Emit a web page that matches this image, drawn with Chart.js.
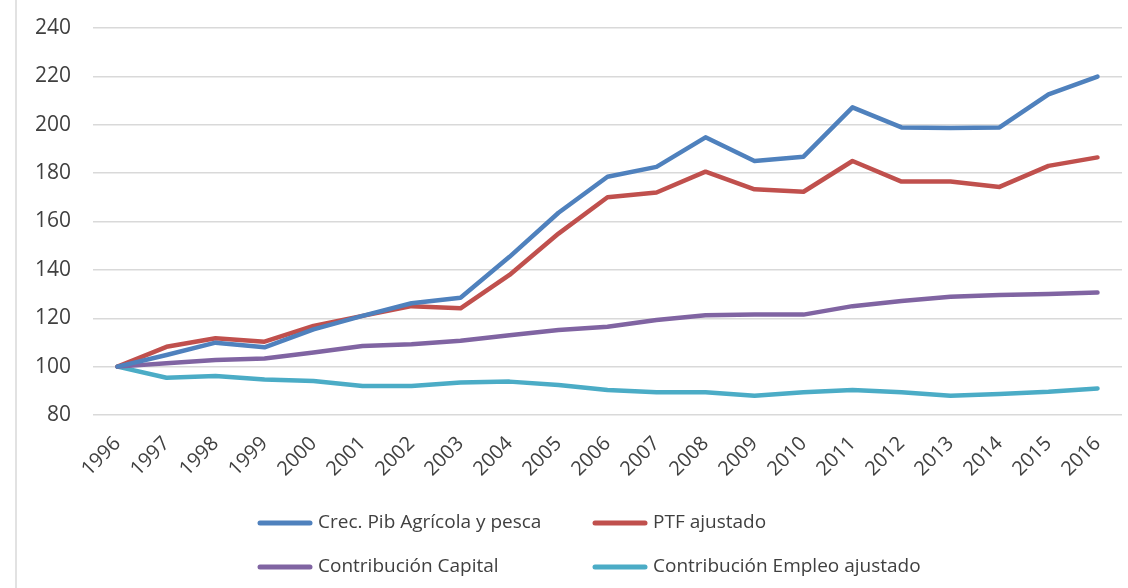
<!DOCTYPE html>
<html lang="es">
<head>
    <meta charset="UTF-8">
    <title>Crecimiento PIB agrícola y pesca</title>
    <style>
        body {
            margin: 0;
            background: #ffffff;
        }
        #wrap {
            position: relative;
            width: 1128px;
            height: 588px;
        }
    </style>
    <script src="https://cdn.jsdelivr.net/npm/chart.js"></script>
</head>
<body>

<div id="wrap">
    <canvas id="tfpChart"></canvas>
</div>

<script>
    // Years on the x axis
    const years = ['1996', '1997', '1998', '1999', '2000', '2001', '2002', '2003', '2004', '2005', '2006',
        '2007', '2008', '2009', '2010', '2011', '2012', '2013', '2014', '2015', '2016'];

    // Series (index 1996 = 100)
    const pibAgricola = [100, 104.8, 109.9, 108, 115.4, 121, 126.2, 128.5, 145.4, 163.6, 178.5,
        182.6, 194.8, 185, 186.8, 207.2, 198.9, 198.7, 198.9, 212.6, 219.9];
    const ptfAjustado = [100, 108.2, 111.7, 110.3, 116.8, 121, 125, 124.1, 137.9, 155, 170,
        172, 180.6, 173.3, 172.3, 185, 176.5, 176.5, 174.3, 183, 186.5];
    const contribCapital = [100, 101.4, 102.7, 103.4, 105.8, 108.5, 109.3, 110.7, 113, 115.1, 116.5,
        119.3, 121.2, 121.6, 121.5, 125, 127.1, 128.9, 129.6, 130, 130.6];
    const contribEmpleo = [100, 95.4, 96.1, 94.7, 94.1, 92, 92, 93.4, 93.8, 92.4, 90.3,
        89.4, 89.4, 88, 89.4, 90.3, 89.4, 88, 88.7, 89.6, 91];

    // Y axis range
    const yMin = 80;
    const yMax = 240;
    const yStep = 20;

    const fontFamily = '"Open Sans", "Noto Sans", sans-serif';
    const textColor = '#404040';

    // thin frame line at the left edge
    const framePlugin = {
        id: 'frame',
        beforeDraw(chart) {
            const ctx = chart.ctx;
            ctx.save();
            ctx.strokeStyle = '#d9d9d9';
            ctx.lineWidth = 1.5;
            ctx.beginPath();
            ctx.moveTo(16, 0);
            ctx.lineTo(16, chart.height);
            ctx.stroke();
            ctx.restore();
        }
    };

    // excel style legend: two columns, two rows
    const gridLegend = {
        id: 'gridLegend',
        afterDraw(chart) {
            const ctx = chart.ctx;
            const cols = [258, 593];
            const rows = [523, 567];
            ctx.save();
            ctx.font = '19px ' + fontFamily;
            ctx.textBaseline = 'middle';
            ctx.textAlign = 'left';
            chart.data.datasets.forEach((ds, i) => {
                const x = cols[i % 2];
                const y = rows[Math.floor(i / 2)];
                ctx.strokeStyle = ds.borderColor;
                ctx.lineWidth = 5;
                ctx.lineCap = 'round';
                ctx.beginPath();
                ctx.moveTo(x + 2, y);
                ctx.lineTo(x + 52, y);
                ctx.stroke();
                ctx.fillStyle = textColor;
                ctx.fillText(ds.label, x + 60, y);
            });
            ctx.restore();
        }
    };

    function line(label, data, color) {
        return {
            label: label,
            data: data,
            borderColor: color,
            backgroundColor: color,
            borderWidth: 4.5,
            pointRadius: 0,
            tension: 0,
            fill: false,
            borderCapStyle: 'round',
            borderJoinStyle: 'round'
        };
    }

    const ctx = document.getElementById('tfpChart').getContext('2d');
    new Chart(ctx, {
        type: 'line',
        data: {
            labels: years,
            datasets: [
                line('Crec. Pib Agrícola y pesca', pibAgricola, '#4f81bd'),
                line('PTF ajustado', ptfAjustado, '#c0504d'),
                line('Contribución Capital', contribCapital, '#8064a2'),
                line('Contribución Empleo ajustado', contribEmpleo, '#4bacc6')
            ]
        },
        options: {
            responsive: true,
            maintainAspectRatio: false,
            animation: false,
            layout: {
                padding: { top: 28, right: 6, bottom: 0, left: 0 }
            },
            scales: {
                x: {
                    offset: true,
                    grid: { display: false, drawTicks: false },
                    border: { display: false },
                    ticks: {
                        minRotation: 45,
                        maxRotation: 45,
                        autoSkip: false,
                        padding: 17,
                        color: textColor,
                        font: { family: fontFamily, size: 20 }
                    },
                    afterFit(scale) {
                        scale.height = 173;
                        scale.paddingLeft = 0;
                        scale.paddingRight = 0;
                    }
                },
                y: {
                    min: yMin,
                    max: yMax,
                    grid: { color: '#d9d9d9', lineWidth: 1.5, drawTicks: false },
                    border: { display: false },
                    ticks: {
                        stepSize: yStep,
                        padding: 22,
                        color: textColor,
                        font: { family: fontFamily, size: 21 }
                    },
                    afterFit(scale) {
                        scale.width = 93;
                        scale.paddingTop = 0;
                        scale.paddingBottom = 0;
                    }
                }
            },
            plugins: {
                legend: { display: false },
                tooltip: { enabled: false }
            }
        },
        plugins: [framePlugin, gridLegend]
    });
</script>

</body>
</html>
